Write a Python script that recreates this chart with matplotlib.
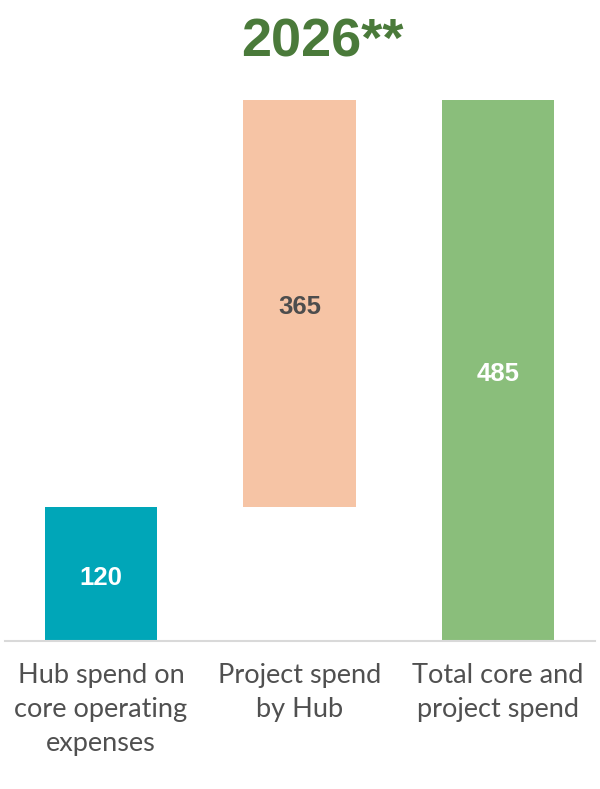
import matplotlib
matplotlib.use("Agg")
import matplotlib.pyplot as plt

# waterfall data
categories = ["Hub spend on\ncore operating\nexpenses", "Project spend\nby Hub", "Total core and\nproject spend"]
values = [120, 365, 485]
bottoms = [0, 120, 0]
colors = ["#00a6b8", "#f6c4a5", "#8abe7b"]
label_colors = ["white", "#4d4d4d", "white"]

fig = plt.figure(figsize=(6, 7.89), dpi=100)
ax = fig.add_axes([5 / 600, 148 / 789, 590 / 600, 541 / 789])

x = list(range(len(values)))
ax.bar(x, values, bottom=bottoms, width=0.565, color=colors)

for i in x:
    ax.annotate(str(values[i]), (i, bottoms[i] + values[i] / 2), xytext=(0, -2.5),
                textcoords="offset points", ha="center", va="center",
                fontsize=18.5, fontweight="bold", color=label_colors[i], family="Liberation Sans")

ax.set_xlim(-0.484, 2.489)
ax.set_ylim(0, 485)
ax.set_xticks(x)
ax.set_xticklabels(categories, fontsize=19.5, color="#505050", family="Lato", linespacing=1.45)
ax.tick_params(axis="x", length=0, pad=16)
ax.set_yticks([])
for s in ["top", "right", "left"]:
    ax.spines[s].set_visible(False)
ax.spines["bottom"].set_color("#d9d9d9")
ax.spines["bottom"].set_linewidth(1.5)

fig.text(0.538, 0.946, "2026**", ha="center", va="center", fontsize=39,
         fontweight="bold", color="#4a7a3a", family="Liberation Sans")

fig.savefig("out.png", dpi=100)
